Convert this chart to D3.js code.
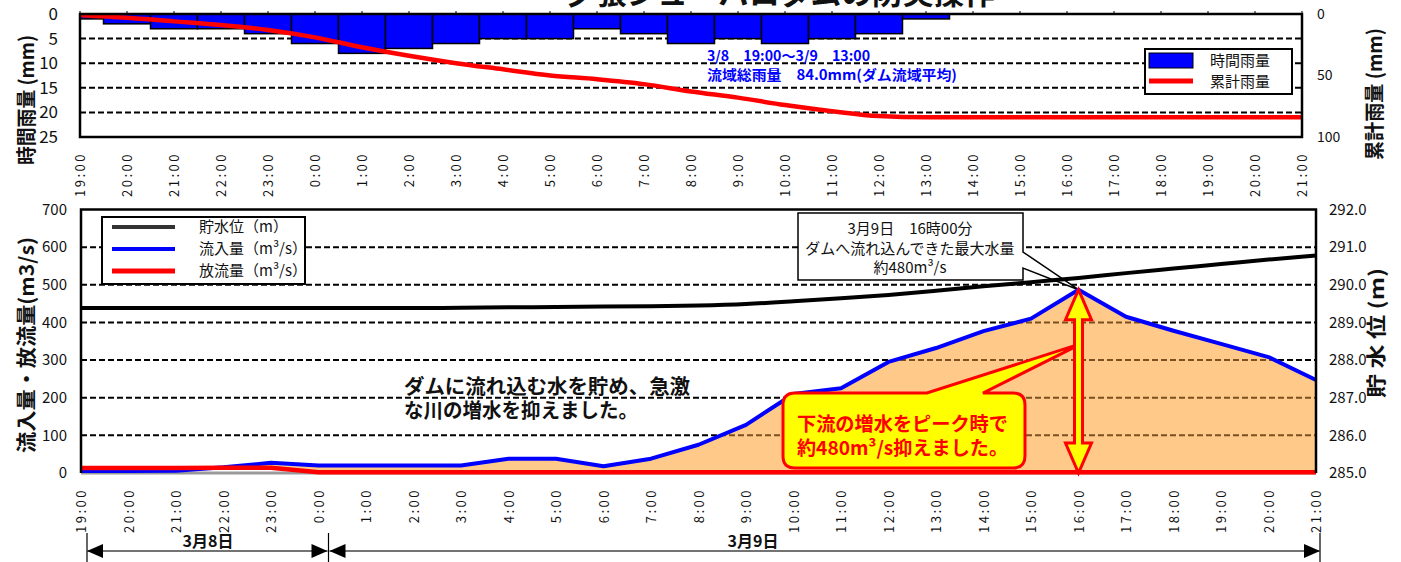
<!DOCTYPE html>
<html><head><meta charset="utf-8">
<script src="https://cdn.jsdelivr.net/npm/d3@7"></script>
<style>
body{margin:0;background:#fff;}
svg{display:block;}
text{font-family:"Noto Sans CJK JP","Noto Sans",sans-serif;}
</style></head><body>
<svg id="c" width="1401" height="562"></svg>
<script>
// ---------------- data ----------------
const hours = ["19:00","20:00","21:00","22:00","23:00","0:00","1:00","2:00","3:00","4:00","5:00","6:00","7:00","8:00","9:00","10:00","11:00","12:00","13:00","14:00","15:00","16:00","17:00","18:00","19:00","20:00","21:00"];
const hourlyRain = [1,2,3,3,4,6,8,7,6,5,5,3,4,6,5,6,5,4,1,0,0,0,0,0,0,0,0];
const cumulativeRain = [1,3,6,9,13,19,27,34,40,45,50,53,57,63,68,74,79,83,84,84,84,84,84,84,84,84,84];
const storageLevel = [289.38,289.38,289.38,289.38,289.38,289.38,289.38,289.38,289.39,289.40,289.41,289.42,289.43,289.45,289.49,289.56,289.64,289.73,289.84,289.96,290.07,290.18,290.31,290.43,290.55,290.67,290.78];
const inflow = [5,5,6,15,27,20,20,20,20,38,38,18,38,75,128,210,225,295,332,377,410,487,415,378,343,308,247];
const outflow = [13,13,13,14,14,2,2,2,2,2,2,2,2,2,2,2,2,2,2,2,2,2,2,2,2,2,2];
const rainTicksL = [0,5,10,15,20,25];
const rainTicksR = [0,50,100];
const flowTicks = [0,100,200,300,400,500,600,700];
const levelTicks = [285,286,287,288,289,290,291,292];
const peakIndex = 21;
const totalRainText = ["3/8　19:00～3/9　13:00","流域総雨量　84.0mm(ダム流域平均)"];

const NUM = '"Liberation Sans Narrow","DejaVu Sans Condensed","Liberation Sans",sans-serif';
const svg = d3.select("#c");

// ---------------- title ----------------
svg.append("text").attr("x",780).attr("y",4).attr("text-anchor","middle")
  .attr("font-size",30).attr("font-weight","bold").attr("fill","#111")
  .attr("textLength",430).attr("lengthAdjust","spacingAndGlyphs")
  .text("夕張シューパロダムの防災操作");

// ================= TOP CHART =================
const T = {l:80,r:1302,t:14,b:137};
const tx = d3.scaleLinear().domain([0,hours.length-1]).range([T.l,T.r]);
const tyL = d3.scaleLinear().domain([0,25]).range([T.t,T.b]);
const tyR = d3.scaleLinear().domain([0,100]).range([T.t,T.b]);
const bw = tx(1)-tx(0);

svg.append("clipPath").attr("id","clipTop").append("rect")
  .attr("x",T.l).attr("y",T.t).attr("width",T.r-T.l).attr("height",T.b-T.t);

const topG = svg.append("g");
topG.append("rect").attr("x",T.l).attr("y",T.t).attr("width",T.r-T.l).attr("height",T.b-T.t).attr("fill","#fff");
topG.selectAll("line.g").data([5,10,15,20]).join("line")
  .attr("x1",T.l).attr("x2",T.r).attr("y1",d=>tyL(d)).attr("y2",d=>tyL(d))
  .attr("stroke","#000").attr("stroke-width",2).attr("stroke-dasharray","6,3");
topG.append("g").attr("clip-path","url(#clipTop)").selectAll("rect").data(hourlyRain.map((v,i)=>({v,i})).filter(d=>d.v>0)).join("rect")
  .attr("x",d=>tx(d.i)-bw/2).attr("width",bw).attr("y",tyL(0)).attr("height",d=>tyL(d.v)-tyL(0))
  .attr("fill","#0000ff").attr("stroke","#000").attr("stroke-width",1.5);
topG.append("path").attr("d",d3.line().x((d,i)=>tx(i)).y(d=>tyR(d)).curve(d3.curveMonotoneX)(cumulativeRain))
  .attr("fill","none").attr("stroke","#ff0000").attr("stroke-width",4.5);
topG.append("rect").attr("x",T.l).attr("y",T.t).attr("width",T.r-T.l).attr("height",T.b-T.t)
  .attr("fill","none").attr("stroke","#000").attr("stroke-width",2.5);
topG.selectAll("line.tt").data(hours.map((h,i)=>i)).join("line")
  .attr("x1",d=>tx(d)).attr("x2",d=>tx(d)).attr("y1",T.t).attr("y2",T.t-3).attr("stroke","#000").attr("stroke-width",1);

const axTL = topG.append("g").attr("transform",`translate(${T.l},0)`)
  .call(d3.axisLeft(tyL).tickValues(rainTicksL).tickSize(0).tickPadding(22));
axTL.select(".domain").remove();
axTL.selectAll("text").attr("font-family",NUM).attr("font-size",17).attr("fill","#111");
const axTR = topG.append("g").attr("transform",`translate(${T.r},0)`)
  .call(d3.axisRight(tyR).tickValues(rainTicksR).tickSize(0).tickPadding(15));
axTR.select(".domain").remove();
axTR.selectAll("text").attr("font-family",NUM).attr("font-size",14).attr("fill","#111");
const axTB = topG.append("g").attr("transform",`translate(0,${T.b})`)
  .call(d3.axisBottom(tx).tickValues(hours.map((h,i)=>i)).tickFormat(i=>hours[i]).tickSize(0));
axTB.select(".domain").remove();
axTB.selectAll("text").attr("transform","rotate(-90)").attr("text-anchor","end")
  .attr("x",-15).attr("y",0).attr("dy","0.35em")
  .attr("font-family","Liberation Sans, sans-serif").attr("font-size",13).attr("letter-spacing",2.5).attr("fill","#111");

svg.append("text").attr("transform","translate(34,100) rotate(-90)").attr("text-anchor","middle")
  .attr("font-size",20).attr("font-weight","bold").attr("fill","#111")
  .attr("textLength",130).attr("lengthAdjust","spacingAndGlyphs").text("時間雨量 (mm)");
svg.append("text").attr("transform","translate(1382,94) rotate(-90)").attr("text-anchor","middle")
  .attr("font-size",20).attr("font-weight","bold").attr("fill","#111")
  .attr("textLength",132).attr("lengthAdjust","spacingAndGlyphs").text("累計雨量 (mm)");

svg.selectAll("text.note").data(totalRainText).join("text").attr("class","note")
  .attr("x",707).attr("y",(d,i)=>61+i*19).attr("font-size",14).attr("font-weight","bold").attr("fill","#0000ff")
  .attr("textLength",(d,i)=>i===0?163:250).attr("lengthAdjust","spacingAndGlyphs").text(d=>d);

const lgT = svg.append("g");
lgT.append("rect").attr("x",1145).attr("y",49).attr("width",147).attr("height",45).attr("fill","#fff").attr("stroke","#000").attr("stroke-width",2);
lgT.append("rect").attr("x",1149).attr("y",53).attr("width",44).attr("height",15).attr("fill","#0000ff").attr("stroke","#000").attr("stroke-width",1);
lgT.append("line").attr("x1",1149).attr("x2",1193).attr("y1",81).attr("y2",81).attr("stroke","#ff0000").attr("stroke-width",5);
lgT.append("text").attr("x",1210).attr("y",61).attr("dy","0.35em").attr("font-size",15).attr("fill","#111").text("時間雨量");
lgT.append("text").attr("x",1210).attr("y",82).attr("dy","0.35em").attr("font-size",15).attr("fill","#111").text("累計雨量");

// ================= BOTTOM CHART =================
const B = {l:81,r:1316,t:209.5,b:473};
const bx = d3.scaleLinear().domain([0,hours.length-1]).range([B.l,B.r]);
const byL = d3.scaleLinear().domain([0,700]).range([B.b,B.t]);
const byR = d3.scaleLinear().domain([285,292]).range([B.b,B.t]);
const botG = svg.append("g");

const areaGen = d3.area().x((d,i)=>bx(i)).y0((d,i)=>byL(outflow[i])).y1((d,i)=>byL(Math.max(inflow[i],outflow[i])));
botG.selectAll("line.g").data([100,200,300,400,500,600]).join("line")
  .attr("x1",B.l).attr("x2",B.r).attr("y1",d=>byL(d)).attr("y2",d=>byL(d))
  .attr("stroke","#000").attr("stroke-width",2).attr("stroke-dasharray","6,3");
botG.append("path").attr("d",areaGen(inflow)).attr("fill","#ffc98a");
svg.append("clipPath").attr("id","clipArea").append("path").attr("d",areaGen(inflow));
botG.append("g").attr("clip-path","url(#clipArea)").selectAll("line").data([100,200,300,400,500,600]).join("line")
  .attr("x1",B.l).attr("x2",B.r).attr("y1",d=>byL(d)).attr("y2",d=>byL(d))
  .attr("stroke","#7a5020").attr("stroke-width",2).attr("stroke-dasharray","6,3");

const px = bx(peakIndex), py = byL(inflow[peakIndex]);
botG.append("path").attr("d",`M798,213 L1023,213 L1023,252 L${px},${py} L1023,268 L1023,280 L798,280 Z`)
  .attr("fill","#fff").attr("stroke","#000").attr("stroke-width",1.5);
["3月9日　16時00分","ダムへ流れ込んできた最大水量","約480m³/s"].forEach((s,i)=>{
  botG.append("text").attr("x",910).attr("y",229+i*19.5).attr("dy","0.35em").attr("text-anchor","middle")
    .attr("font-size",15).attr("fill","#111").text(s);
});

botG.append("line").attr("x1",B.l).attr("x2",B.r).attr("y1",B.b).attr("y2",B.b).attr("stroke","#999").attr("stroke-width",3);
botG.append("path").attr("d",d3.line().x((d,i)=>bx(i)).y(d=>byR(d)).curve(d3.curveMonotoneX)(storageLevel))
  .attr("fill","none").attr("stroke","#000").attr("stroke-width",4);
botG.append("path").attr("d",d3.line().x((d,i)=>bx(i)).y(d=>byL(d))(inflow))
  .attr("fill","none").attr("stroke","#0000ff").attr("stroke-width",4).attr("stroke-linejoin","round");
botG.append("path").attr("d",d3.line().x((d,i)=>bx(i)).y(d=>byL(d))(outflow))
  .attr("fill","none").attr("stroke","#ff0000").attr("stroke-width",4.5).attr("stroke-linejoin","round");

botG.append("path").attr("d",`M${B.l},${B.b} L${B.l},${B.t} L${B.r},${B.t} L${B.r},${B.b}`)
  .attr("fill","none").attr("stroke","#000").attr("stroke-width",2.5);

const tipX = px+4, tipY = byL(345);
botG.append("path").attr("d",`M795,393 L927,393 L${tipX},${tipY} L983,393 L1013,393 Q1025,393 1025,405 L1025,456 Q1025,468 1013,468 L795,468 Q783,468 783,456 L783,405 Q783,393 795,393 Z`)
  .attr("fill","#ffff00").attr("stroke","#ff0000").attr("stroke-width",3).attr("stroke-linejoin","miter");
botG.append("text").attr("x",797).attr("y",431).attr("font-size",19).attr("font-weight","bold").attr("fill","#ff0000")
  .attr("textLength",211).attr("lengthAdjust","spacingAndGlyphs").text("下流の増水をピーク時で");
botG.append("text").attr("x",797).attr("y",455).attr("font-size",19).attr("font-weight","bold").attr("fill","#ff0000")
  .attr("textLength",211).attr("lengthAdjust","spacingAndGlyphs").text("約480m³/s抑えました。");

const aTop = byL(inflow[peakIndex]), aBot = byL(0);
const sw=4, hw=13, hl=30;
botG.append("path").attr("d",`M${px},${aTop} L${px+hw},${aTop+hl} L${px+sw},${aTop+hl} L${px+sw},${aBot-hl} L${px+hw},${aBot-hl} L${px},${aBot} L${px-hw},${aBot-hl} L${px-sw},${aBot-hl} L${px-sw},${aTop+hl} L${px-hw},${aTop+hl} Z`)
  .attr("fill","#ffff00").attr("stroke","#ff0000").attr("stroke-width",3).attr("stroke-linejoin","miter");

botG.append("text").attr("x",404).attr("y",394).attr("font-size",20).attr("font-weight","bold").attr("fill","#111")
  .attr("textLength",286).attr("lengthAdjust","spacingAndGlyphs").text("ダムに流れ込む水を貯め、急激");
botG.append("text").attr("x",404).attr("y",418).attr("font-size",20).attr("font-weight","bold").attr("fill","#111")
  .attr("textLength",234).attr("lengthAdjust","spacingAndGlyphs").text("な川の増水を抑えました。");

const axBL = botG.append("g").attr("transform",`translate(${B.l},0)`)
  .call(d3.axisLeft(byL).tickValues(flowTicks).tickSize(0).tickPadding(14));
axBL.select(".domain").remove();
axBL.selectAll("text").attr("font-family",NUM).attr("font-size",15).attr("fill","#111");
const axBR = botG.append("g").attr("transform",`translate(${B.r},0)`)
  .call(d3.axisRight(byR).tickValues(levelTicks).tickFormat(d3.format(".1f")).tickSize(0).tickPadding(13));
axBR.select(".domain").remove();
axBR.selectAll("text").attr("font-family",NUM).attr("font-size",15).attr("fill","#111");
const axBB = botG.append("g").attr("transform",`translate(0,${B.b})`)
  .call(d3.axisBottom(bx).tickValues(hours.map((h,i)=>i)).tickFormat(i=>hours[i]).tickSize(0));
axBB.select(".domain").remove();
axBB.selectAll("text").attr("transform","rotate(-90)").attr("text-anchor","end")
  .attr("x",-15).attr("y",0).attr("dy","0.35em")
  .attr("font-family","Liberation Sans, sans-serif").attr("font-size",13).attr("letter-spacing",2.5).attr("fill","#111");

svg.append("text").attr("transform","translate(34,345) rotate(-90)").attr("text-anchor","middle")
  .attr("font-size",20).attr("font-weight","bold").attr("fill","#111")
  .attr("textLength",216).attr("lengthAdjust","spacingAndGlyphs").text("流入量・放流量(m3/s)");
svg.append("text").attr("transform","translate(1384,333) rotate(-90)").attr("text-anchor","middle")
  .attr("font-size",20).attr("font-weight","bold").attr("fill","#111")
  .attr("textLength",130).attr("lengthAdjust","spacingAndGlyphs").text("貯 水 位 (m)");

const lgB = svg.append("g");
lgB.append("rect").attr("x",102).attr("y",217).attr("width",203).attr("height",67).attr("fill","#fff").attr("stroke","#000").attr("stroke-width",2);
const legItems = [{c:"#333",t:"貯水位（m）"},{c:"#0000ff",t:"流入量（m³/s）"},{c:"#ff0000",t:"放流量（m³/s）"}];
legItems.forEach((d,i)=>{
  const y = 227+i*22;
  lgB.append("line").attr("x1",112).attr("x2",175).attr("y1",y).attr("y2",y).attr("stroke",d.c).attr("stroke-width",i===2?5:4);
  lgB.append("text").attr("x",199).attr("y",y).attr("dy","0.35em").attr("font-size",15).attr("fill","#111").text(d.t);
});

const br = svg.append("g");
const yA = 551;
const xs = [bx(0)+6, bx(5)+10, bx(26)+4];
xs.forEach(x=>br.append("line").attr("x1",x).attr("x2",x).attr("y1",533).attr("y2",562).attr("stroke","#000").attr("stroke-width",1.2));
function arrowSeg(x1,x2){
  br.append("line").attr("x1",x1).attr("x2",x2).attr("y1",yA).attr("y2",yA).attr("stroke","#444").attr("stroke-width",1.5);
  br.append("path").attr("d",`M${x1},${yA} L${x1+16},${yA-7} L${x1+16},${yA+7} Z`).attr("fill","#000");
  br.append("path").attr("d",`M${x2},${yA} L${x2-16},${yA-7} L${x2-16},${yA+7} Z`).attr("fill","#000");
}
arrowSeg(xs[0],xs[1]-1); arrowSeg(xs[1]+1,xs[2]);
br.append("text").attr("x",208).attr("y",541).attr("dy","0.35em").attr("text-anchor","middle").attr("font-size",16).attr("font-weight","bold").attr("fill","#111").text("3月8日");
br.append("text").attr("x",753).attr("y",541).attr("dy","0.35em").attr("text-anchor","middle").attr("font-size",16).attr("font-weight","bold").attr("fill","#111").text("3月9日");
</script>
</body></html>
